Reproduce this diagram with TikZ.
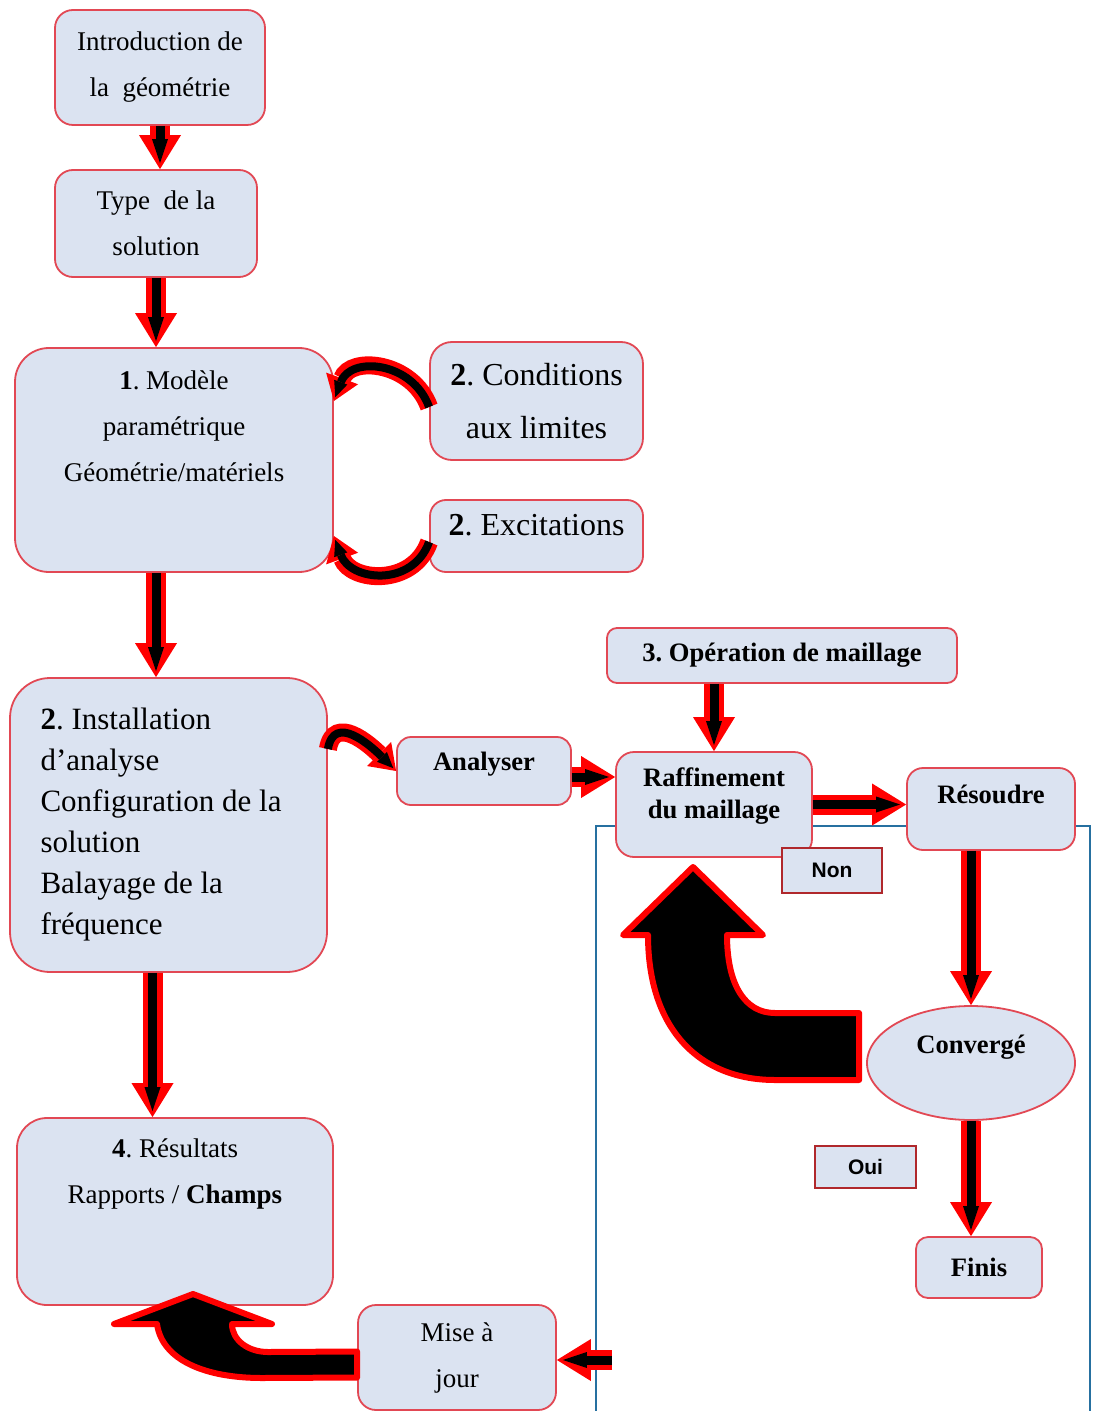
\documentclass[tikz,border=0pt]{standalone}
\usepackage{fontspec}
\setmainfont{Liberation Serif}
\newfontfamily\tagfont{Liberation Sans}
\usepackage{tikz}
\usetikzlibrary{shapes.geometric, arrows.meta, positioning}

\definecolor{boxfill}{RGB}{219,227,241}
\definecolor{boxline}{RGB}{226,72,84}
\definecolor{tagline}{RGB}{176,40,44}
\definecolor{frameblue}{RGB}{38,112,160}
\frenchspacing

\begin{document}
\begin{tikzpicture}[
  x=0.5pt, y=-0.5pt,
  box/.style={rectangle, rounded corners=9pt, draw=boxline, line width=0.9pt, fill=boxfill,
              inner sep=0pt, align=center, font=\fontsize{13.5}{23}\selectfont},
  big/.style={font=\fontsize{16}{26.5}\selectfont},
  strong/.style={font=\fontsize{13.3}{16}\selectfont\bfseries},
  tag/.style={rectangle, draw=tagline, line width=0.9pt, fill=boxfill, inner sep=0pt,
              font=\tagfont\bfseries\fontsize{10.5}{12}\selectfont},
  arrow/.style={line width=4.5pt, black, shorten >=3pt,
                -{Triangle[width=8pt, length=12pt, line width=0pt]},
                preaction={draw=red, line width=10pt, shorten >=0pt,
                           -{Triangle[width=21pt, length=17pt, line width=0pt]}}},
  turn/.style={line width=4pt, black, shorten >=2pt, looseness=1.3,
               -{Triangle[width=7pt, length=8pt, line width=0pt]},
               preaction={draw=red, line width=9pt, shorten >=0pt,
                          -{Triangle[width=17pt, length=12pt, line width=0pt]}}},
  bigarrow/.style={fill=black, draw=red, line width=3pt, line join=round},
  frame/.style={draw=frameblue, line width=0.8pt}
]
  \useasboundingbox (0,0) rectangle (1096,1411);
  \fill[white] (0,0) rectangle (1096,1411);

  % frame round the mesh loop
  \draw[frame] (596,1411) |- (1090,826) -- (1090,1411);

  % left column
  \node[box, minimum width=105pt, minimum height=57.5pt] (intro) at (160,67.5)
    {Introduction de\\la~ géométrie};
  \node[box, minimum width=101pt, minimum height=53.5pt] (type) at (156,223.5)
    {Type~ de la\\solution};
  \node[box, rounded corners=17pt, minimum width=159pt, minimum height=112pt, text depth=34pt] (modele) at (174,460)
    {\textbf{1}. Modèle\\paramétrique\\Géométrie/matériels};
  \node[box, big, rounded corners=11pt, minimum width=106.5pt, minimum height=59pt] (cond) at (536.5,401)
    {\textbf{2}. Conditions\\aux limites};
  \node[box, big, rounded corners=8pt, minimum width=106.5pt, minimum height=36pt, text depth=11pt] (excit) at (536.5,536)
    {\textbf{2}. Excitations};
  \node[box, font=\fontsize{15.5}{20.5}\selectfont, rounded corners=20pt, minimum width=158.5pt,
        minimum height=147pt, align=flush left, text width=128pt] (install) at (168.5,825)
    {\textbf{2}. Installation\\d’analyse\\Configuration de la\\solution\\Balayage de la\\fréquence};
  \node[box, rounded corners=15pt, minimum width=158pt, minimum height=93.5pt, text depth=40.5pt] (resultats) at (175,1211.5)
    {\textbf{4}. Résultats\\Rapports / \textbf{Champs}};
  \node[box, minimum width=99pt, minimum height=52.5pt] (mise) at (457,1357.5)
    {Mise à\\jour};

  % mesh loop
  \node[box, strong, rounded corners=5pt, minimum width=175pt, minimum height=27.5pt] (meshop) at (782,655.5)
    {3. Opération de maillage};
  \node[box, strong, rounded corners=7pt, minimum width=87pt, minimum height=34pt, text depth=10pt] (analyser) at (484,771)
    {Analyser};
  \node[box, strong, minimum width=98pt, minimum height=52.5pt, text depth=11.5pt] (raff) at (714,804.5)
    {Raffinement\\du maillage};
  \node[box, strong, rounded corners=8pt, minimum width=84pt, minimum height=41pt, text depth=15pt] (resoudre) at (991,809)
    {Résoudre};
  \node[tag, minimum width=50pt, minimum height=22.5pt] (non) at (832,870.5) {Non};
  \node[box, strong, ellipse, minimum width=104pt, minimum height=57pt, text depth=19pt] (converge) at (971,1063)
    {Convergé};
  \node[tag, minimum width=50.5pt, minimum height=21pt] (oui) at (865.5,1167) {Oui};
  \node[box, strong, rounded corners=6pt, minimum width=63pt, minimum height=30.5pt] (finis) at (979,1267.5)
    {Finis};
  \coordinate (update) at (612,1360);

  % straight arrows
  \draw[arrow] (intro.south) -- (intro.south |- type.north);
  \draw[arrow] (type.south) -- (type.south |- modele.north);
  \draw[arrow] (type.south |- modele.south) -- (type.south |- install.north);
  \draw[arrow] ([xshift=-8pt]install.south) -- ([xshift=-8pt]install.south |- resultats.north);
  \draw[arrow] ([yshift=-3pt]analyser.east) -- ([yshift=-3pt]analyser.east -| raff.west);
  \draw[arrow] (meshop.south -| raff.north) -- (raff.north);
  \draw[arrow] (raff.east) -- (raff.east -| resoudre.west);
  \draw[arrow] (resoudre.south -| converge.north) -- (converge.north);
  \draw[arrow] (converge.south) -- (converge.south |- finis.north);
  \draw[arrow] (update) -- (update -| mise.east);

  % curved arrows
  \draw[turn] ([yshift=-3pt]cond.west) to[out=110, in=70] (modele.east |- cond.west);
  \draw[turn] ([yshift=-3pt]excit.west) to[out=-110, in=-70] (modele.east |- excit.west);
  \draw[turn] ([yshift=38pt]install.east) to[out=80, in=135] (analyser.west);

  % big return arrows
  \filldraw[bigarrow] ([xshift=-3.5pt, yshift=25pt]converge.west) -- (775,1013)
    .. controls (745,1013) and (727,985) .. (727,935) -- (763,935) -- (693,867) -- (623,935) -- (648,935)
    .. controls (648,1030) and (700,1080) .. (775,1080) -- ([xshift=-3.5pt, yshift=-8.5pt]converge.west) -- cycle;
  \filldraw[bigarrow] ([yshift=3pt]mise.west) -- (268,1352)
    .. controls (248,1352) and (232,1340) .. (232,1324) -- (272,1324) -- (193,1294) -- (114,1324) -- (157,1324)
    .. controls (162,1360) and (205,1378) .. (262,1378) -- ([yshift=-10pt]mise.west) -- cycle;
\end{tikzpicture}
\end{document}
